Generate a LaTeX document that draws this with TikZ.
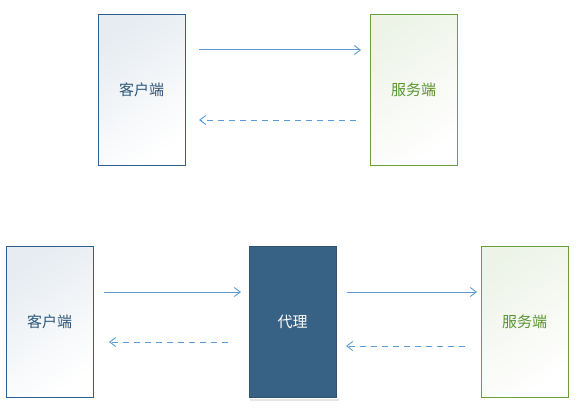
\documentclass[tikz,border=0pt]{standalone}
\usepackage{fontspec}
\setmainfont{Noto Sans CJK SC}
\usetikzlibrary{arrows.meta}
\definecolor{cliB}{HTML}{2F5F8C}
\definecolor{cliT}{HTML}{2B5679}
\definecolor{srvB}{HTML}{6A9F3A}
\definecolor{srvT}{HTML}{5A9532}
\definecolor{proxF}{HTML}{376185}
\definecolor{arr}{HTML}{5B9BD5}
\begin{document}
\begin{tikzpicture}[x=1pt,y=-1pt,
  box/.style={draw, line width=1pt, minimum width=87pt, minimum height=151pt, inner sep=0pt, font=\fontsize{15}{17}\selectfont},
  client/.style={box, draw=cliB, text=cliT, shading=axis, top color=cliB!12, bottom color=white, shading angle=35},
  server/.style={box, draw=srvB, text=srvT, shading=axis, top color=srvB!12, bottom color=white, shading angle=35},
  proxy/.style={box, draw=proxF!85!black, fill=proxF, text=white},
  req/.style={draw=arr, line width=1pt, -{Straight Barb[length=6pt,width=9pt,line width=0.9pt]}},
  resp/.style={req, dash pattern=on 6pt off 5pt}
]
\useasboundingbox (0,0) rectangle (577,409);
% top row
\node[client] (c1) at (141.5,90) {客户端};
\node[server] (s1) at (413.5,90) {服务端};
\coordinate (a1s) at (199,50);
\coordinate (a1e) at (361,50);
\coordinate (b1s) at (356,120);
\coordinate (b1e) at (199,120);
\draw[req] (a1s) -- (a1e);
\draw[resp] (b1s) -- (b1e);
% bottom row
\node[client] (c2) at (49.5,322) {客户端};
\fill[black!20, opacity=0.5] (250,399) rectangle (339,401);
\node[proxy] (p) at (292.5,322) {代理};
\node[server] (s2) at (524.5,322) {服务端};
\coordinate (a2s) at (104,292);
\coordinate (a2e) at (241,292);
\coordinate (b2s) at (228,342);
\coordinate (b2e) at (109,342);
\coordinate (a3s) at (347,292);
\coordinate (a3e) at (477,292);
\coordinate (b3s) at (465,346);
\coordinate (b3e) at (346,346);
\draw[req] (a2s) -- (a2e);
\draw[resp] (b2s) -- (b2e);
\draw[req] (a3s) -- (a3e);
\draw[resp] (b3s) -- (b3e);
\end{tikzpicture}
\end{document}
